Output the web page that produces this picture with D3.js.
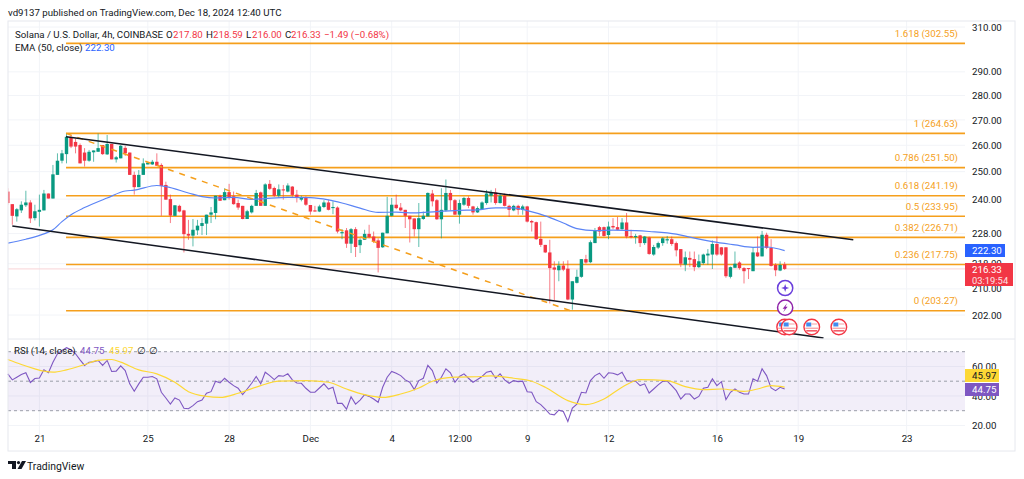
<!DOCTYPE html>
<html>
<head>
<meta charset="utf-8">
<script src="https://d3js.org/d3.v7.min.js"></script>
<style>
  body { margin: 0; background: #fff; }
  text { font-family: Roboto, sans-serif; }
</style>
</head>
<body>
<svg id="chart" width="1024" height="479"></svg>
<script>
// 4h candles, first one is Nov 19 20:00 (clipped by the pane edge)
let opens = [242.7,
  238.2,233.9,236.0,237.8,238.8,233.3,235.5,236.0,242.0,240.2,
  248.8,254.1,256.6,263.0,261.3,260.1,257.2,254.1,257.3,257.5,
  260.1,256.5,260.5,254.6,255.0,259.0,257.2,248.8,244.3,248.8,
  252.7,252.7,253.7,252.5,245.1,240.0,234.1,237.6,236.0,227.9,
  227.3,229.1,230.6,231.4,234.5,235.1,241.2,239.6,242.5,241.0,
  238.6,237.6,233.0,235.3,237.6,242.4,237.6,245.5,244.0,241.2,
  243.5,242.7,244.5,241.6,239.8,240.6,237.9,236.0,235.6,237.2,
  238.8,236.8,237.0,228.1,229.1,224.6,229.5,224.1,225.9,227.9,
  227.0,225.7,223.4,228.1,234.1,238.0,237.0,236.2,234.1,233.2,
  229.5,233.0,233.9,242.0,239.6,232.9,236.0,242.2,239.6,234.5,
  238.0,240.4,237.4,235.3,236.4,238.6,241.2,242.4,238.6,241.2,
  237.6,236.0,237.6,236.2,237.4,232.3,231.9,226.2,224.2,221.7,
  216.8,215.9,217.4,216.4,206.7,211.9,213.8,219.5,218.5,224.8,
  230.2,230.2,227.5,230.6,230.2,229.5,231.8,227.2,226.8,227.4,
  224.8,226.7,221.0,223.3,224.8,225.7,226.1,224.8,222.8,217.7,
  219.9,219.5,216.9,218.2,220.7,221.0,224.5,223.4,223.4,213.8,
  216.7,218.4,216.6,216.6,215.6,221.7,220.4,227.6,223.2,217.6,
  215.8,217.80]
let highs = [243.9,
  238.2,236.8,239.2,243.0,239.6,238.0,241.6,243.3,242.0,252.5,
  256.9,258.2,264.6,264.0,262.6,260.7,258.9,258.2,258.0,264.6,
  260.1,264.0,260.5,255.9,260.1,259.8,257.2,250.0,250.6,255.0,
  253.7,254.4,256.9,253.1,246.3,241.6,237.8,238.0,236.2,232.7,
  233.0,232.7,233.3,234.5,237.2,241.2,241.6,243.9,245.5,242.7,
  239.8,237.6,236.2,238.0,243.3,242.7,245.7,246.9,244.5,245.3,
  245.1,245.7,244.7,243.3,241.2,241.0,237.9,237.6,238.0,239.6,
  239.8,239.2,237.4,229.5,229.9,229.9,230.2,226.4,229.3,231.0,
  228.7,226.4,228.3,240.8,240.4,241.6,238.6,236.2,234.1,233.2,
  238.6,235.6,242.4,243.3,240.0,243.9,247.1,243.3,240.0,239.8,
  240.8,241.0,237.6,237.4,239.2,243.3,243.3,243.9,242.2,242.0,
  238.0,238.0,238.0,238.0,237.6,232.7,232.1,232.1,224.2,225.9,
  218.8,218.8,218.8,219.1,212.4,216.1,219.5,220.9,225.7,229.9,
  230.6,230.4,232.1,233.3,233.7,233.3,235.1,229.3,227.9,227.6,
  227.2,227.0,224.2,225.3,226.8,227.2,227.0,225.3,222.8,222.0,
  222.0,222.0,221.0,221.3,222.8,225.7,227.0,223.5,223.4,217.1,
  222.0,218.8,216.9,216.6,223.5,227.0,228.9,228.3,226.1,218.2,
  218.8,218.59]
let lows = [238.0,
  231.0,232.1,235.1,237.2,231.6,232.5,230.4,236.0,240.2,240.2,
  248.8,253.1,253.1,258.9,256.9,253.1,251.9,253.7,253.7,257.5,
  256.3,256.3,254.6,253.4,255.0,255.9,248.8,241.6,244.3,248.8,
  252.7,252.5,252.2,234.1,239.8,231.6,234.1,235.3,221.7,225.9,
  223.7,227.5,227.5,227.5,231.6,232.9,239.4,239.6,239.8,238.0,
  236.2,232.9,233.0,234.9,237.6,237.6,237.6,243.3,240.8,240.4,
  239.8,242.4,240.8,238.8,239.2,237.6,234.5,235.6,235.4,236.8,
  236.0,234.7,228.1,226.1,223.2,221.5,220.2,221.5,225.9,226.4,
  224.8,215.2,223.2,228.1,233.9,236.4,235.7,229.9,225.0,227.0,
  223.5,232.7,233.9,237.4,232.7,226.4,235.6,236.0,234.5,231.4,
  237.6,236.8,234.5,235.1,236.2,238.0,238.8,238.0,238.4,237.4,
  233.7,235.7,234.5,234.5,231.8,228.7,225.9,223.5,221.5,205.5,
  206.5,212.4,215.6,206.5,203.6,211.7,213.5,218.0,218.2,224.8,
  227.2,227.0,226.1,229.5,229.1,229.3,226.4,226.4,224.6,223.5,
  224.2,220.9,220.6,222.8,223.9,224.6,223.9,220.4,216.9,215.6,
  216.9,215.6,216.6,217.7,217.7,216.3,220.6,220.6,213.5,213.3,
  216.6,216.1,211.7,213.1,215.6,220.2,220.4,222.8,217.1,214.0,
  215.6,216.00]
let closes = [238.6,
  234.1,236.4,238.0,238.8,233.2,235.7,236.2,242.0,240.2,249.0,
  254.1,256.9,263.3,259.5,259.5,253.1,254.1,257.5,258.0,258.9,
  256.6,260.5,254.6,255.4,259.8,256.9,248.8,244.3,248.8,253.1,
  253.4,253.7,252.2,244.7,239.8,234.2,237.8,235.6,227.8,227.3,
  229.3,230.7,231.6,234.5,235.3,241.2,239.4,242.5,240.4,238.2,
  237.0,233.0,235.7,237.6,242.2,237.6,245.3,243.7,241.2,243.5,
  243.1,244.9,241.5,240.4,240.6,238.0,235.6,235.6,237.4,238.8,
  236.2,237.2,228.7,228.5,224.6,229.5,223.5,225.9,227.9,226.8,
  225.3,223.2,228.3,234.1,238.0,236.8,236.0,234.1,232.9,229.5,
  233.3,234.1,242.2,239.2,232.9,236.2,242.2,239.6,234.5,238.6,
  240.4,237.6,235.3,236.8,238.8,242.0,242.4,238.6,241.2,237.6,
  236.2,237.6,236.2,237.4,232.1,231.8,226.1,224.2,221.7,216.6,
  216.1,217.4,216.1,206.7,212.4,213.8,219.5,218.4,225.1,229.1,
  228.7,227.2,230.4,230.1,229.3,231.8,227.0,226.8,227.2,224.8,
  227.0,221.2,223.5,224.8,226.4,226.1,224.5,222.4,218.0,220.1,
  219.3,216.9,218.8,221.0,221.3,224.5,221.0,221.0,214.0,216.9,
  218.0,216.6,215.6,216.3,221.7,220.4,227.6,223.2,217.3,215.9,
  217.6,216.33]

// EMA read at some bars only
let emaBars = [0,4,8,10,12,14,17,22,26,28,33,35,40,43,46,50,54,57,62,67,71,74,78,82,86,90,95,100,104,108,112,115,119,123,126,130,134,139,142,148,151,156,161,165,168,172]
let emaValues = [224.8,226.1,227.9,229.3,232.1,234.5,237.0,240.4,242.9,243.2,244.9,244.5,242.2,240.9,240.4,240.6,239.9,240.2,240.6,240.5,239.7,238.6,236.8,235.3,235.4,235.1,235.6,236.0,236.2,236.9,236.9,235.9,234.1,231.6,229.7,229.0,229.2,229.0,228.7,227.8,226.8,225.3,224.2,223.4,223.5,222.3]

let rsiValues = [55.0,
  50.9,52.7,54.5,55.7,49.1,51.8,52.2,57.7,55.7,62.9,
  68.6,70.9,72.7,71.3,68.6,64.5,60.7,62.9,63.2,64.1,
  60.7,64.1,56.6,56.8,60.4,57.2,48.2,43.2,48.2,52.7,
  52.7,53.2,51.6,42.5,38.6,34.5,38.6,37.2,31.6,31.3,
  33.4,36.1,37.2,41.8,42.9,50.0,48.8,52.0,49.3,47.0,
  45.2,40.9,44.7,48.6,53.2,48.2,56.1,53.8,51.1,53.8,
  53.4,55.0,50.9,48.8,48.6,45.2,42.5,42.5,45.4,48.2,
  44.7,45.9,35.0,35.0,31.1,39.5,34.5,37.2,40.9,39.7,
  37.9,35.7,45.9,52.7,56.6,55.4,53.8,50.9,49.3,44.3,
  50.4,52.0,60.7,57.2,48.8,52.7,58.4,55.7,49.3,53.2,
  55.0,52.0,49.3,51.1,53.2,56.1,56.8,52.0,55.0,50.9,
  48.6,50.4,49.7,50.0,42.9,42.5,36.1,34.1,31.1,27.7,
  27.2,30.4,29.5,22.7,31.8,34.5,42.5,42.0,50.4,53.8,
  55.4,52.0,55.7,55.4,54.3,56.1,50.4,50.0,50.0,47.0,
  48.2,42.0,44.7,47.5,50.0,50.0,47.0,43.6,37.9,41.3,
  41.3,37.9,39.7,45.2,45.9,51.6,47.0,49.7,37.5,42.5,
  44.7,42.5,41.3,41.3,51.6,50.0,58.4,53.8,45.4,43.6,
  45.9,44.75]

let rsiMaBars = [0,3,6,8,10,13,17,20,23,25,29,33,37,40,44,47,51,56,60,66,71,75,79,83,87,91,94,99,105,107,112,116,119,124,128,132,136,140,146,150,154,158,163,166,169,172]
let rsiMaValues = [64.7,61.3,58.4,56.8,56.1,57.7,61.3,64.1,64.7,62.9,57.7,55.0,49.3,42.9,39.7,39.0,41.8,47.0,50.0,50.4,49.3,44.7,40.9,39.0,41.3,45.4,50.0,52.7,53.2,53.6,52.0,50.0,45.9,36.8,34.1,37.9,45.9,51.1,50.4,46.3,44.3,44.7,43.1,44.7,47.0,45.97]

let fibLevels = ['1.618','1','0.786','0.618','0.5','0.382','0.236','0']
let fibPrices = [302.55,264.63,251.50,241.19,233.95,226.71,217.75,203.27]

let priceTicks = [310,290,280,270,260,250,240,228,218,210,202]
let rsiTicks = [60,40,20]
let rsiBands = [70,50,30]
let timeTicks = [[2024,10,21,0],[2024,10,25,0],[2024,10,28,0],[2024,11,1,0],[2024,11,4,0],[2024,11,6,12],[2024,11,9,0],[2024,11,12,0],[2024,11,16,0],[2024,11,19,0],[2024,11,23,0]]
let timeLabels = ['21','25','28','Dec','4','12:00','9','12','16','19','23']

// drawings, [bar, price] at both ends
let channelUpper = [[12.9,263.3],[187.2,225.9]]
let channelLower = [[1,230.6],[180.6,195.2]]
let fibTrend = [[12.9,264.63],[124.6,203.27]]

let flagBars = [172,173,178,184]

// layout
let paneLeft = 8, paneRight = 965, frameRight = 1015
let mainTop = 21, mainBottom = 339, rsiBottom = 437, frameBottom = 451
let fontSize = 9.7

let green = '#089981', red = '#f23645', orange = '#f59f1c', purple = '#7e57c2', yellow = '#fdd835'
let gridColor = '#f2f4f8', lineColor = '#e6e8ee', axisText = '#131722'

let svg = d3.select('#chart')

let barDate = (i) => new Date(Date.UTC(2024, 10, 20) + (i - 1) * 4 * 3600 * 1000)

let x = d3.scaleUtc()
  .domain([new Date(Date.UTC(2024, 10, 20)), new Date(Date.UTC(2024, 11, 23))])
  .range([12.3, 906.6])
let y = d3.scaleLog().domain([310, 202]).range([27, 315])
let yRsi = d3.scaleLinear().domain([70, 30]).range([351.7, 410.7])

let tickDates = timeTicks.map((t) => new Date(Date.UTC(t[0], t[1], t[2], t[3])))

svg.append('text').attr('x', 8).attr('y', 15.5)
  .attr('font-size', fontSize).attr('fill', axisText)
  .text('vd9137 published on TradingView.com, Dec 18, 2024 12:40 UTC')

// clip to the panes
let defs = svg.append('defs')
defs.append('clipPath').attr('id', 'mainClip').append('rect')
  .attr('x', paneLeft).attr('y', mainTop).attr('width', paneRight - paneLeft).attr('height', mainBottom - mainTop)

// grid
let grid = svg.append('g')
grid.selectAll('.v').data(tickDates).enter().append('line')
  .attr('x1', (d) => x(d)).attr('x2', (d) => x(d))
  .attr('y1', mainTop).attr('y2', rsiBottom)
  .attr('stroke', gridColor)
grid.selectAll('.h').data(priceTicks).enter().append('line')
  .attr('x1', paneLeft).attr('x2', paneRight)
  .attr('y1', (d) => y(d)).attr('y2', (d) => y(d))
  .attr('stroke', gridColor)

// RSI band
svg.append('rect')
  .attr('x', paneLeft).attr('width', paneRight - paneLeft)
  .attr('y', yRsi(70)).attr('height', yRsi(30) - yRsi(70))
  .attr('fill', purple).attr('fill-opacity', 0.1)
grid.selectAll('.r').data(rsiTicks).enter().append('line')
  .attr('x1', paneLeft).attr('x2', paneRight)
  .attr('y1', (d) => yRsi(d)).attr('y2', (d) => yRsi(d))
  .attr('stroke', gridColor)
svg.selectAll('.band').data(rsiBands).enter().append('line')
  .attr('x1', paneLeft).attr('x2', paneRight)
  .attr('y1', (d) => yRsi(d)).attr('y2', (d) => yRsi(d))
  .attr('stroke', '#9a9ea8').attr('stroke-dasharray', '3 3')

let main = svg.append('g').attr('clip-path', 'url(#mainClip)')

// last price line
main.append('line')
  .attr('x1', paneLeft).attr('x2', paneRight)
  .attr('y1', y(closes[closes.length - 1])).attr('y2', y(closes[closes.length - 1]))
  .attr('stroke', '#f9d3d6').attr('stroke-width', 1)

// fib levels
let fibStart = x(barDate(fibTrend[0][0]))
main.selectAll('.fib').data(fibPrices).enter().append('line')
  .attr('x1', fibStart).attr('x2', paneRight)
  .attr('y1', (d) => y(d)).attr('y2', (d) => y(d))
  .attr('stroke', orange).attr('stroke-width', 1.6)
svg.selectAll('.fibLabel').data(fibPrices).enter().append('text')
  .attr('x', 958).attr('y', (d) => y(d) - 6.5)
  .attr('text-anchor', 'end').attr('font-size', fontSize).attr('fill', orange)
  .text((d, i) => fibLevels[i] + ' (' + d.toFixed(2) + ')')

// candles
let bars = d3.range(opens.length)
main.selectAll('.wick').data(bars).enter().append('line')
  .attr('x1', (i) => x(barDate(i))).attr('x2', (i) => x(barDate(i)))
  .attr('y1', (i) => y(highs[i])).attr('y2', (i) => y(lows[i]))
  .attr('stroke', (i) => closes[i] >= opens[i] ? green : red)
  .attr('stroke-opacity', 0.65).attr('stroke-width', 1)
main.selectAll('.body').data(bars).enter().append('rect')
  .attr('x', (i) => x(barDate(i)) - 1.7).attr('width', 3.4)
  .attr('y', (i) => y(Math.max(opens[i], closes[i])))
  .attr('height', (i) => Math.max(1, Math.abs(y(opens[i]) - y(closes[i]))))
  .attr('fill', (i) => closes[i] >= opens[i] ? green : red)

// EMA
let emaLine = d3.line()
  .x((d, i) => x(barDate(emaBars[i])))
  .y((d) => y(d))
  .curve(d3.curveMonotoneX)
main.append('path').datum(emaValues)
  .attr('d', emaLine).attr('fill', 'none').attr('stroke', '#5b84f5').attr('stroke-width', 1.2)

// fib trend line and channel
let pointLine = d3.line().x((d) => x(barDate(d[0]))).y((d) => y(d[1]))
main.append('path').datum(fibTrend)
  .attr('d', pointLine).attr('fill', 'none').attr('stroke', orange)
  .attr('stroke-width', 1.5).attr('stroke-dasharray', '6 6')
main.append('path').datum(channelUpper)
  .attr('d', pointLine).attr('fill', 'none').attr('stroke', '#131722').attr('stroke-width', 1.5)
main.append('path').datum(channelLower)
  .attr('d', pointLine).attr('fill', 'none').attr('stroke', '#131722').attr('stroke-width', 1.5)

// event markers under the last bar
let markers = svg.append('g')
let starX = x(barDate(172)) + 0.5
markers.append('circle').attr('cx', starX).attr('cy', 288).attr('r', 7.6)
  .attr('fill', '#fff').attr('stroke', '#6a3fdc').attr('stroke-width', 1.5)
markers.append('path')
  .attr('d', 'M0,-4 L1,-1 L4,0 L1,1 L0,4 L-1,1 L-4,0 L-1,-1 Z')
  .attr('transform', 'translate(' + starX + ',288)').attr('fill', '#6a3fdc')
markers.append('circle').attr('cx', starX).attr('cy', 307.7).attr('r', 7.6)
  .attr('fill', '#fff').attr('stroke', '#8e24aa').attr('stroke-width', 1.5)
markers.append('path')
  .attr('d', 'M2,-4.5 L-2.5,1 L-0.3,1 L-2,4.5 L2.5,-1 L0.3,-1 Z')
  .attr('transform', 'translate(' + starX + ',307.7)').attr('fill', '#8e24aa')

let flag = markers.selectAll('.flag').data(flagBars).enter().append('g')
  .attr('transform', (d) => 'translate(' + x(barDate(d)) + ',327)')
flag.append('circle').attr('r', 7.8).attr('fill', '#fff').attr('stroke', red).attr('stroke-width', 1.4)
flag.append('rect').attr('x', -5.5).attr('y', -4.5).attr('width', 5).attr('height', 4).attr('fill', '#3f8cf0')
flag.append('rect').attr('x', -0.5).attr('y', -3.5).attr('width', 6).attr('height', 1).attr('fill', '#f7a0a6')
flag.append('rect').attr('x', -6.5).attr('y', 0.6).attr('width', 13).attr('height', 1.3).attr('fill', '#f7a0a6')
flag.append('rect').attr('x', -5.5).attr('y', 3.2).attr('width', 11).attr('height', 1.3).attr('fill', red)

// price axis
let priceAxis = d3.axisRight(y).tickValues(priceTicks).tickFormat(d3.format('.2f')).tickSize(0).tickPadding(0)
let gp = svg.append('g').attr('transform', 'translate(972,0)').call(priceAxis)
gp.select('.domain').remove()
gp.selectAll('text').attr('font-size', fontSize).attr('fill', axisText).style('font-family', 'Roboto, sans-serif')

// RSI pane
let rsiLine = d3.line().x((d, i) => x(barDate(i))).y((d) => yRsi(d))
svg.append('path').datum(rsiValues)
  .attr('d', rsiLine).attr('fill', 'none').attr('stroke', purple).attr('stroke-width', 1.1)
let rsiMaLine = d3.line()
  .x((d, i) => x(barDate(rsiMaBars[i])))
  .y((d) => yRsi(d))
  .curve(d3.curveMonotoneX)
svg.append('path').datum(rsiMaValues)
  .attr('d', rsiMaLine).attr('fill', 'none').attr('stroke', yellow).attr('stroke-width', 1.2)

let rsiAxis = d3.axisRight(yRsi).tickValues(rsiTicks).tickFormat(d3.format('.2f')).tickSize(0).tickPadding(0)
let gr = svg.append('g').attr('transform', 'translate(972,0)').call(rsiAxis)
gr.select('.domain').remove()
gr.selectAll('text').attr('font-size', fontSize).attr('fill', axisText).style('font-family', 'Roboto, sans-serif')

// time axis
let timeAxis = d3.axisBottom(x).tickValues(tickDates).tickFormat((d, i) => timeLabels[i]).tickSize(0).tickPadding(0)
let gt = svg.append('g').attr('transform', 'translate(0,435)').call(timeAxis)
gt.select('.domain').remove()
gt.selectAll('text').attr('font-size', fontSize).attr('fill', axisText).style('font-family', 'Roboto, sans-serif')

// value tags on the axes
let tag = (x0, y0, w, h, fill) => svg.append('rect').attr('x', x0).attr('y', y0).attr('width', w).attr('height', h).attr('fill', fill)
let tagText = (txt, x0, y0, fill, size) => svg.append('text').attr('x', x0).attr('y', y0)
  .attr('font-size', size || fontSize).attr('fill', fill).text(txt)

tag(965, 244, 40, 13, '#2962ff')
tagText(d3.format('.2f')(emaValues[emaValues.length - 1]), 972, 254, '#fff')
tag(965, 263, 48, 23, red)
tagText(closes[closes.length - 1].toFixed(2), 972, 273, '#fff')
tagText('03:19:54', 972, 283.5, '#fde3e5', 9.4)
tag(965, 369, 34, 13, yellow)
tagText(rsiMaValues[rsiMaValues.length - 1].toFixed(2), 972, 379, axisText)
tag(965, 383, 34, 13, purple)
tagText(rsiValues[rsiValues.length - 1].toFixed(2), 972, 393, '#fff')

// frame
svg.append('rect').attr('x', paneLeft).attr('y', mainTop)
  .attr('width', frameRight - paneLeft).attr('height', frameBottom - mainTop)
  .attr('fill', 'none').attr('stroke', lineColor)
svg.append('line').attr('x1', paneLeft).attr('x2', frameRight)
  .attr('y1', mainBottom).attr('y2', mainBottom).attr('stroke', lineColor)

// legend
let legend = (parts, yPos) => {
  let t = svg.append('text').attr('y', yPos).attr('font-size', fontSize)
  parts.forEach((p) => t.append('tspan').attr('x', p[0]).attr('fill', p[2]).text(p[1]))
}
legend([
  [15, 'Solana / U.S. Dollar, 4h, COINBASE', axisText],
  [166, 'O', axisText], [173, '217.80', red],
  [206, 'H', axisText], [213, '218.59', red],
  [246, 'L', axisText], [252, '216.00', red],
  [285, 'C', axisText], [291, '216.33', red],
  [324, '\u22121.49 (\u22120.68%)', red]
], 37.5)
legend([
  [15, 'EMA (50, close)', axisText],
  [85, '222.30', '#2962ff']
], 51)
legend([
  [14, 'RSI (14, close)', axisText],
  [80, '44.75', purple],
  [109, '45.97', yellow],
  [137, '\u2205', axisText],
  [149, '\u2205', axisText]
], 354)

// logo and watermark
let logo = svg.append('g').attr('transform', 'translate(8,461)').attr('fill', '#131722')
logo.append('path').attr('d', 'M0,0 H8 V8 H4 V3 H0 Z')
logo.append('circle').attr('cx', 10.5).attr('cy', 1.6).attr('r', 1.6)
logo.append('path').attr('d', 'M14,0 H18 L13.5,8 H9.5 Z')
svg.append('text').attr('x', 27).attr('y', 469.5)
  .attr('font-size', 10.4).attr('fill', '#131722').text('TradingView')
</script>
</body>
</html>
